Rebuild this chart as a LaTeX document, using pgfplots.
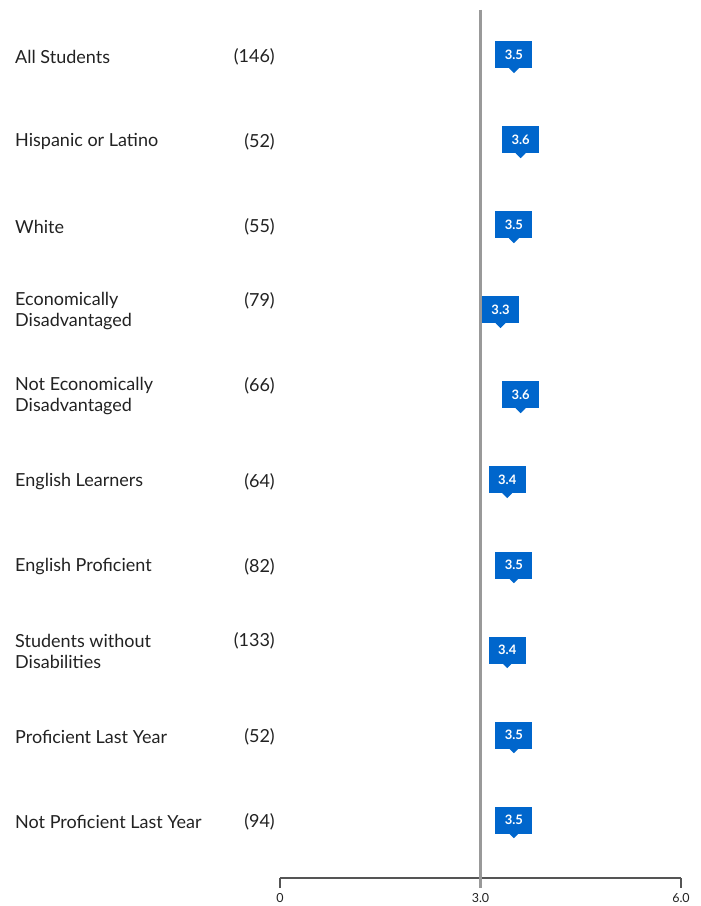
\documentclass[border=0pt]{standalone}
\usepackage{pgfplots}
\pgfplotsset{compat=1.18}
\usepackage{fontspec}
\setmainfont{Lato}
\definecolor{boxblue}{HTML}{0066CC}
\definecolor{txt}{HTML}{222222}
\definecolor{axgray}{HTML}{555555}
\definecolor{refgray}{HTML}{999999}
\tikzset{lab/.style={anchor=west, align=left, font=\fontsize{18}{21}\selectfont, text=txt, inner sep=0pt, yshift=-1.5pt},
         cnt/.style={anchor=east, font=\fontsize{18}{21}\selectfont, text=txt, inner sep=0pt, yshift=-1.5pt},
         valbox/.style={anchor=center, shape=rectangle, fill=boxblue, draw=none, text=white,
           font=\bfseries\fontsize{13}{13}\selectfont, minimum width=37pt, minimum height=27pt,
           inner sep=0pt,
           append after command={\pgfextra{\fill[boxblue] ([xshift=-5pt,yshift=0.5pt]\tikzlastnode.south) -- ([yshift=-4.5pt]\tikzlastnode.south) -- ([xshift=5pt,yshift=0.5pt]\tikzlastnode.south) -- cycle;}}}}
\begin{document}
\begin{tikzpicture}
\useasboundingbox (0,0) rectangle (701pt,906pt);
\begin{axis}[
  at={(280pt,28pt)}, anchor=south west,
  scale only axis, width=401pt, height=868pt,
  xmin=0, xmax=6, ymin=-9.682, ymax=0.529,
  clip=false,
  axis x line*=bottom, axis y line=none,
  x axis line style={axgray, line width=2pt, -},
  xtick={0,3,6}, xticklabels={0,3.0,6.0},
  xtick align=outside, major tick length=10pt,
  xtick style={axgray, line width=2pt},
  xticklabel style={font=\fontsize{12.5}{12.5}\selectfont, text=txt, yshift=-2pt},
  ytick=\empty,
]
% reference line at 3.0
\addplot[refgray, line width=3pt, mark=none] coordinates {(3,0.529) (3,-9.8)};
% values
\addplot[draw=none, mark=none, point meta=x,
  nodes near coords={\pgfmathprintnumber[fixed,precision=1,fixed zerofill,assume math mode=true]{\pgfplotspointmeta}},
  every node near coord/.style={valbox}]
  coordinates {(3.5,0) (3.6,-1) (3.5,-2) (3.3,-3) (3.6,-4) (3.4,-5) (3.5,-6) (3.4,-7) (3.5,-8) (3.5,-9)};
% category labels
\node[lab] at ([xshift=-265pt]axis cs:0,0) {All Students};
\node[lab] at ([xshift=-265pt]axis cs:0,-1) {Hispanic or Latino};
\node[lab] at ([xshift=-265pt]axis cs:0,-2) {White};
\node[lab] at ([xshift=-265pt]axis cs:0,-3) {Economically\\Disadvantaged};
\node[lab] at ([xshift=-265pt]axis cs:0,-4) {Not Economically\\Disadvantaged};
\node[lab] at ([xshift=-265pt]axis cs:0,-5) {English Learners};
\node[lab] at ([xshift=-265pt]axis cs:0,-6) {English Proficient};
\node[lab] at ([xshift=-265pt]axis cs:0,-7) {Students without\\Disabilities};
\node[lab] at ([xshift=-265pt]axis cs:0,-8) {Proficient Last Year};
\node[lab] at ([xshift=-265pt]axis cs:0,-9) {Not Proficient Last Year};
\node[cnt] at ([xshift=-5pt]axis cs:0,0) {(146)};
\node[cnt] at ([xshift=-5pt]axis cs:0,-1) {(52)};
\node[cnt] at ([xshift=-5pt]axis cs:0,-2) {(55)};
\node[cnt] at ([xshift=-5pt,yshift=10.5pt]axis cs:0,-3) {(79)};
\node[cnt] at ([xshift=-5pt,yshift=10.5pt]axis cs:0,-4) {(66)};
\node[cnt] at ([xshift=-5pt]axis cs:0,-5) {(64)};
\node[cnt] at ([xshift=-5pt]axis cs:0,-6) {(82)};
\node[cnt] at ([xshift=-5pt,yshift=10.5pt]axis cs:0,-7) {(133)};
\node[cnt] at ([xshift=-5pt]axis cs:0,-8) {(52)};
\node[cnt] at ([xshift=-5pt]axis cs:0,-9) {(94)};
\end{axis}
\end{tikzpicture}
\end{document}
